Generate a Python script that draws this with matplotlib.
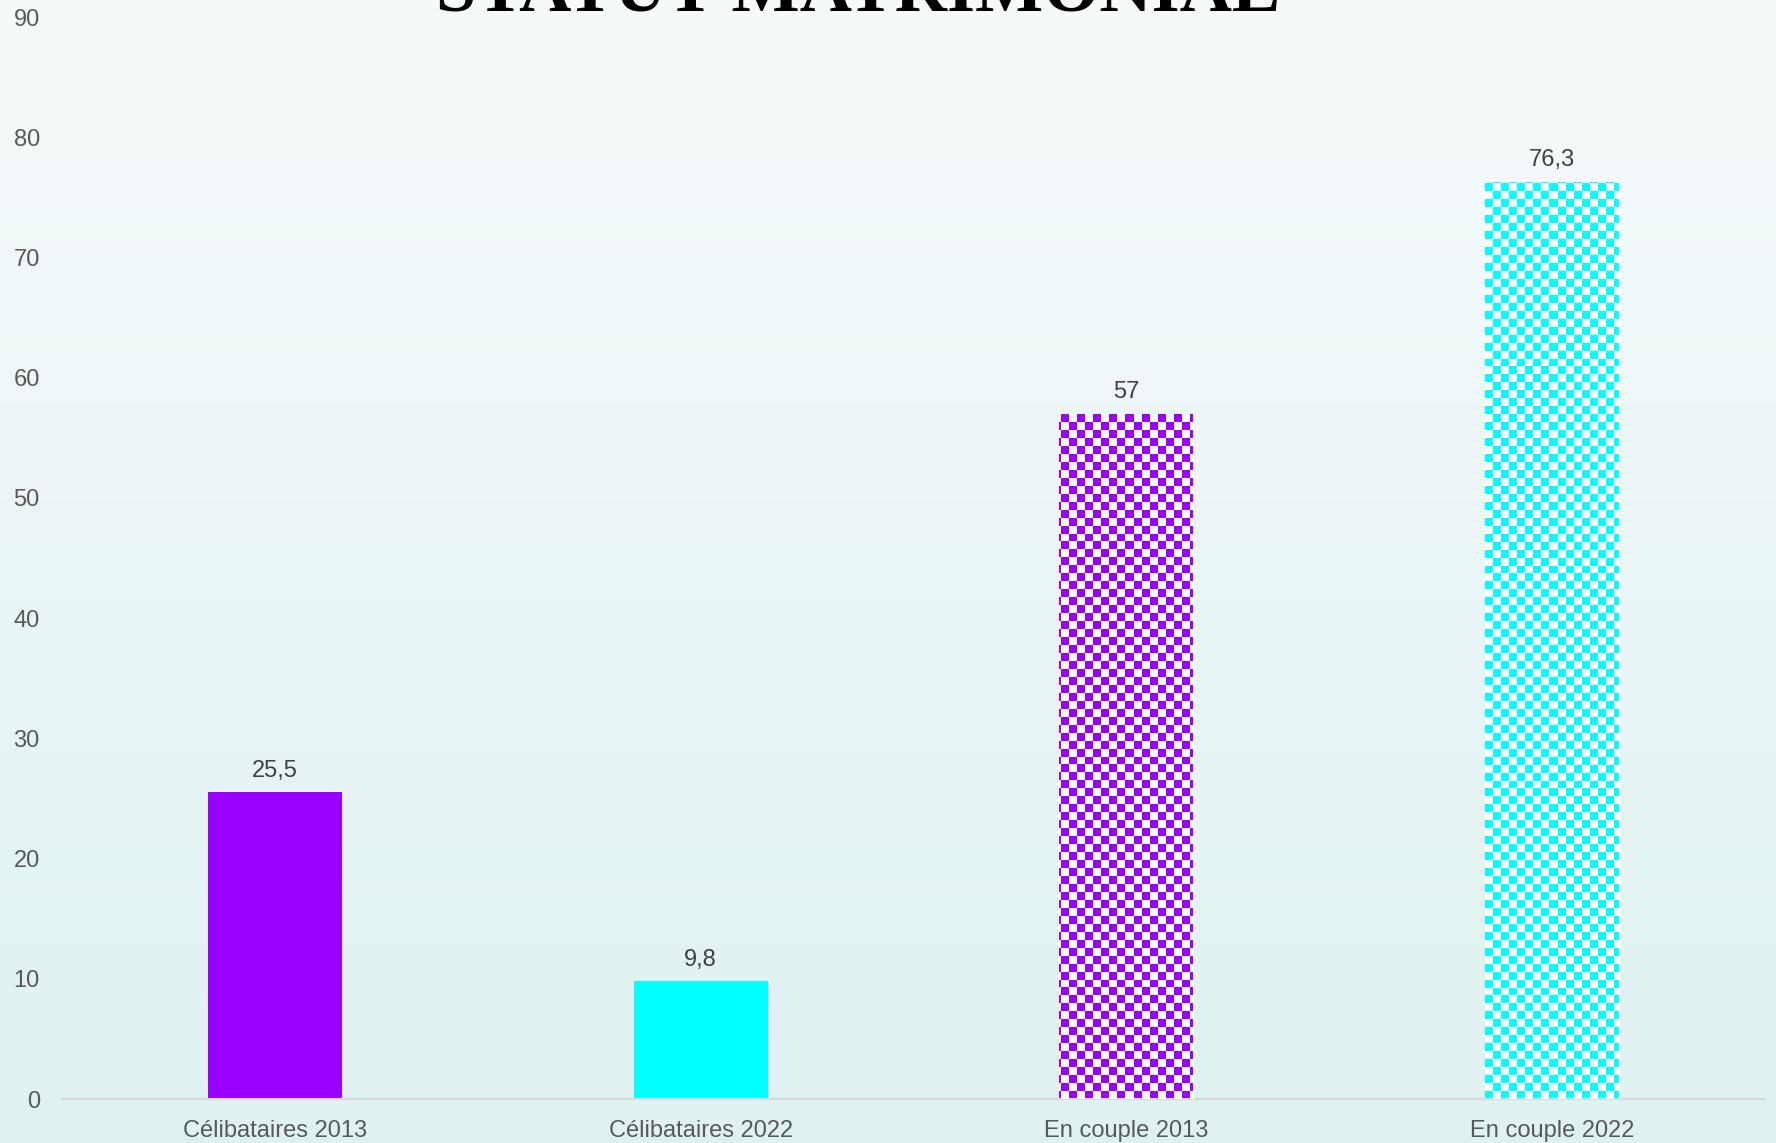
import numpy as np
import matplotlib
matplotlib.use("Agg")
import matplotlib.pyplot as plt

categories = ["Célibataires 2013", "Célibataires 2022", "En couple 2013", "En couple 2022"]
values = [25.5, 9.8, 57, 76.3]
labels = ["25,5", "9,8", "57", "76,3"]
colors = ["#9900FF", "#00FFFF", "#9900FF", "#00FFFF"]
patterned = [False, False, True, True]
yticks = [0, 10, 20, 30, 40, 50, 60, 70, 80, 90]
title = "STATUT MATRIMONIAL"

plt.rcParams["font.family"] = ["Liberation Sans", "DejaVu Sans"]

W, H, DPI = 1776, 1143, 100
fig = plt.figure(figsize=(W / DPI, H / DPI), dpi=DPI)

# background gradient
bg = fig.add_axes([0, 0, 1, 1], zorder=-10)
top = np.array([0.965, 0.980, 0.984])
bot = np.array([0.875, 0.945, 0.945])
t = np.linspace(0, 1, 256)[:, None, None]
grad = top * (1 - t) + bot * t
grad = np.repeat(grad, 2, axis=1)
bg.imshow(grad, aspect="auto", extent=[0, 1, 0, 1], interpolation="bilinear")
bg.axis("off")

ax = fig.add_axes([62 / W, 1 - 1099 / H, (1765 - 62) / W, (1099 - 17) / H])
ax.patch.set_alpha(0)
x = np.arange(len(categories))
bars = ax.bar(x, values, width=0.315, color=colors, zorder=2)

ax.set_xlim(-0.5, len(categories) - 0.5)
ax.set_ylim(0, 90)
ax.set_yticks(yticks)
ax.set_yticklabels([str(v) for v in yticks])
ax.set_xticks(x)
ax.set_xticklabels(categories)
ax.tick_params(axis="both", length=0, labelsize=17, colors="#595959")
ax.tick_params(axis="y", pad=16)
ax.tick_params(axis="x", pad=15)
for s in ["top", "right", "left"]:
    ax.spines[s].set_visible(False)
ax.spines["bottom"].set_color("#d9d9d9")
ax.spines["bottom"].set_linewidth(1.5)

# checker pattern overlay for patterned bars
axw = 1765 - 62
axh = 1099 - 17
cell = 8
ny, nx = axh // cell + 1, axw // cell + 1
yy, xx = np.mgrid[0:ny, 0:nx]
checker = ((yy + xx) % 2 == 0)
rgba = np.zeros((ny, nx, 4))
rgba[checker] = [1, 1, 1, 1]
for b, p in zip(bars, patterned):
    if p:
        im = ax.imshow(rgba, extent=[0, 1, 0, 1], transform=ax.transAxes,
                       interpolation="nearest", aspect="auto", zorder=3)
        im.set_clip_path(b)
ax.set_xlim(-0.5, len(categories) - 0.5)
ax.set_ylim(0, 90)

for b, lab in zip(bars, labels):
    ax.annotate(lab, (b.get_x() + b.get_width() / 2, b.get_height()),
                xytext=(0, 15.5), textcoords="offset points", ha="center",
                va="center", fontsize=17, color="#404040")

fig.text(858 / W, 1 - 11 / H, title, ha="center", va="baseline",
         fontsize=52, fontweight="bold", family="Liberation Serif", color="black")

fig.savefig("out.png", dpi=DPI)
